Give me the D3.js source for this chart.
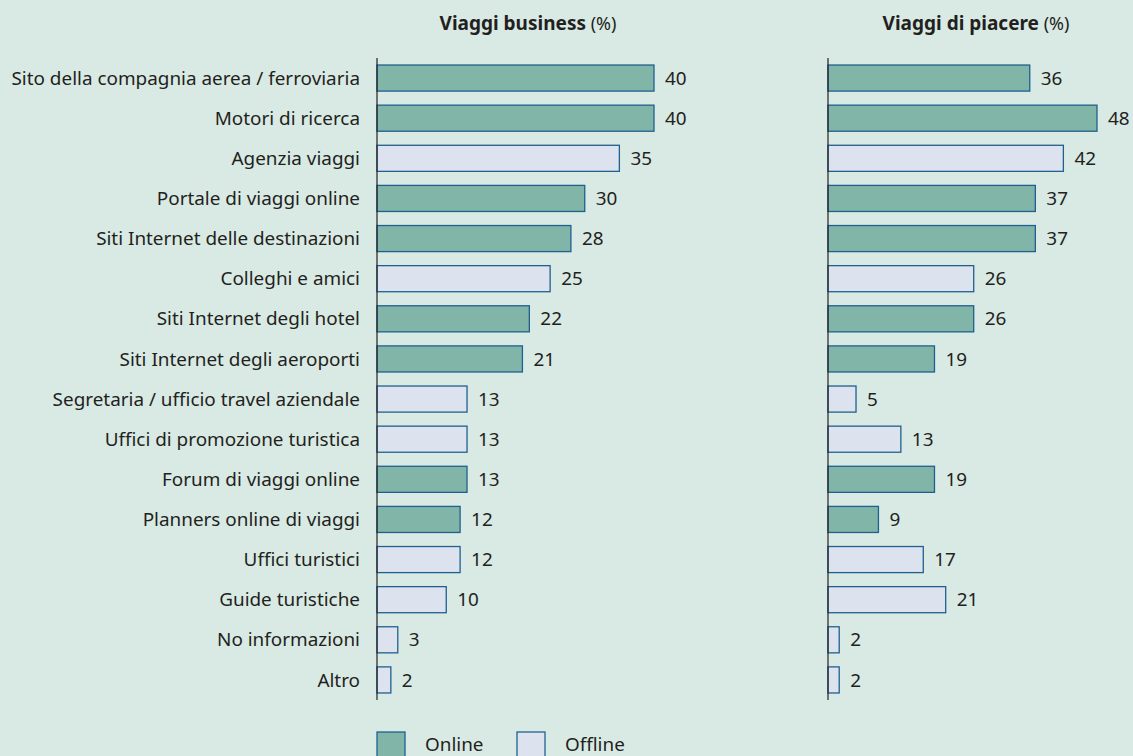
<!DOCTYPE html>
<html>
<head>
<meta charset="utf-8">
<script src="https://cdn.jsdelivr.net/npm/d3@7"></script>
<style>
  body { margin: 0; background: #d9eae4; }
  svg { display: block; font-family: "Noto Sans", sans-serif; }
</style>
</head>
<body>
<div id="chart"></div>
<script>
// categories, top to bottom
const categories = [
  "Sito della compagnia aerea / ferroviaria",
  "Motori di ricerca",
  "Agenzia viaggi",
  "Portale di viaggi online",
  "Siti Internet delle destinazioni",
  "Colleghi e amici",
  "Siti Internet degli hotel",
  "Siti Internet degli aeroporti",
  "Segretaria / ufficio travel aziendale",
  "Uffici di promozione turistica",
  "Forum di viaggi online",
  "Planners online di viaggi",
  "Uffici turistici",
  "Guide turistiche",
  "No informazioni",
  "Altro"
];
const channel = ["Online", "Online", "Offline", "Online", "Online", "Offline", "Online", "Online",
  "Offline", "Offline", "Online", "Online", "Offline", "Offline", "Offline", "Offline"];
const business = [40, 40, 35, 30, 28, 25, 22, 21, 13, 13, 13, 12, 12, 10, 3, 2];
const leisure = [36, 48, 42, 37, 37, 26, 26, 19, 5, 13, 19, 9, 17, 21, 2, 2];
const legendItems = ["Online", "Offline"];

const W = 1133, H = 756;
const fill = { Online: "#80b5a8", Offline: "#dde3ee" };
const stroke = "#1f6090";
const ink = "#231f20";
const fs = 18.9;

const svg = d3.select("#chart").append("svg")
  .attr("width", W).attr("height", H);

svg.append("rect").attr("width", W).attr("height", H).attr("fill", "#d9eae4");

const y = d3.scaleBand()
  .domain(categories)
  .range([58, 700])
  .paddingInner(0.35)
  .paddingOuter(0.175);

// two panels
const panels = [
  { title: "Viaggi business", values: business, x0: 377, scale: d3.scaleLinear().domain([0, 40]).range([0, 277]), titleX: 528 },
  { title: "Viaggi di piacere", values: leisure, x0: 828, scale: d3.scaleLinear().domain([0, 48]).range([0, 269]), titleX: 976 }
];

panels.forEach(p => {
  const g = svg.append("g").attr("transform", `translate(${p.x0},0)`);

  const t = g.append("text")
    .attr("x", p.titleX - p.x0)
    .attr("y", 30)
    .attr("text-anchor", "middle")
    .attr("font-size", 19)
    .attr("fill", ink);
  t.append("tspan").attr("font-weight", "bold").text(p.title);
  t.append("tspan").attr("font-size", 18).text(" (%)");

  g.selectAll("rect.bar")
    .data(categories)
    .enter().append("rect")
    .attr("class", "bar")
    .attr("x", 0)
    .attr("y", d => y(d))
    .attr("width", (d, i) => p.scale(p.values[i]))
    .attr("height", y.bandwidth())
    .attr("fill", (d, i) => fill[channel[i]])
    .attr("stroke", stroke)
    .attr("stroke-width", 1.3);

  g.selectAll("text.val")
    .data(categories)
    .enter().append("text")
    .attr("class", "val")
    .attr("x", (d, i) => p.scale(p.values[i]) + 11)
    .attr("y", d => y(d) + y.bandwidth() / 2)
    .attr("dy", "0.35em")
    .attr("font-size", fs)
    .attr("fill", ink)
    .text((d, i) => p.values[i]);

  g.append("line")
    .attr("x1", 0).attr("x2", 0)
    .attr("y1", 58).attr("y2", 700)
    .attr("stroke", ink)
    .attr("stroke-width", 1.2);
});

// category labels
svg.selectAll("text.cat")
  .data(categories)
  .enter().append("text")
  .attr("class", "cat")
  .attr("x", 360)
  .attr("y", d => y(d) + y.bandwidth() / 2)
  .attr("dy", "0.35em")
  .attr("text-anchor", "end")
  .attr("font-size", fs)
  .attr("fill", ink)
  .text(d => d);

// legend
const lg = svg.selectAll("g.legend")
  .data(legendItems)
  .enter().append("g")
  .attr("class", "legend")
  .attr("transform", (d, i) => `translate(${377 + i * 140},732)`);
lg.append("rect")
  .attr("width", 28).attr("height", 26)
  .attr("fill", d => fill[d])
  .attr("stroke", stroke)
  .attr("stroke-width", 1.3);
lg.append("text")
  .attr("x", 48).attr("y", 19)
  .attr("font-size", fs)
  .attr("fill", ink)
  .text(d => d);
</script>
</body>
</html>
